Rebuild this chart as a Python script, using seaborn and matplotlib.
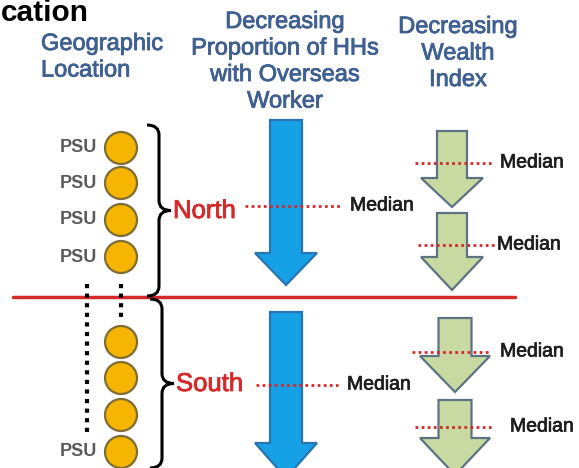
import matplotlib
matplotlib.use("Agg")
import matplotlib.pyplot as plt
import seaborn as sns
from matplotlib.patches import Polygon, Circle, PathPatch
from matplotlib.path import Path
import matplotlib.patheffects as pe

# ---- content of the diagram ----
TITLE_FRAGMENT = "cation"
HEADERS = [
    "Geographic\nLocation",
    "Decreasing\nProportion of HHs\nwith Overseas\nWorker",
    "Decreasing\nWealth\nIndex",
]
REGIONS = ["North", "South"]
PSU_NORTH = ["PSU", "PSU", "PSU", "PSU"]
PSU_SOUTH = ["", "", "", "PSU"]
MEDIAN_LABEL = "Median"

# ---- layout (pixel space, y downwards) ----
W, H = 579, 468
HEADER_X = [41, 285, 458]
HEADER_HA = ["left", "center", "center"]
HEADER_Y = [44, 22, 27]
HEADER_STEP = 26.5
PSU_Y = {"North": [148, 183, 220, 257], "South": [342, 378, 415, 452]}
REGION_Y = {"North": 211, "South": 384}
BRACE = {"North": (147, 125, 296), "South": (150, 299, 468)}

BLUE, BLUE_EDGE = "#16a0e6", "#2a74b0"
GREEN, GREEN_EDGE = "#c8d9a2", "#5d7383"
RED = "#d42a2a"
YELLOW, YELLOW_EDGE = "#f6b500", "#7d6d34"
HEADER_C = "#3f6090"

sns.set_theme(style="white")
plt.rcParams["font.family"] = ["Liberation Sans", "DejaVu Sans"]

fig = plt.figure(figsize=(W / 100, H / 100), dpi=100)
ax = fig.add_axes([0, 0, 1, 1])
ax.set_xlim(0, W)
ax.set_ylim(H, 0)
ax.axis("off")


def thick(color, w=0.6):
    # slightly heavier strokes, the source text is a blurred raster
    return [pe.withStroke(linewidth=w, foreground=color)]


def down_arrow(xc, top, base, tip, shaft_w, head_w, fc, ec):
    pts = [(xc - shaft_w / 2, top), (xc + shaft_w / 2, top),
           (xc + shaft_w / 2, base), (xc + head_w / 2, base),
           (xc, tip), (xc - head_w / 2, base), (xc - shaft_w / 2, base)]
    ax.add_patch(Polygon(pts, closed=True, fc=fc, ec=ec, lw=1.6, zorder=2))


def brace(x0, y0, y1, w=12, r=10):
    ym = (y0 + y1) / 2
    xb = x0 + w
    verts = [(x0, y0), (xb, y0), (xb, y0 + r), (xb, ym - r), (xb, ym), (xb + w, ym),
             (xb, ym), (xb, ym + r), (xb, y1 - r), (xb, y1), (x0, y1)]
    codes = [Path.MOVETO, Path.CURVE3, Path.CURVE3, Path.LINETO, Path.CURVE3, Path.CURVE3,
             Path.CURVE3, Path.CURVE3, Path.LINETO, Path.CURVE3, Path.CURVE3]
    ax.add_patch(PathPatch(Path(verts, codes), fc="none", ec="black", lw=2.2, zorder=3))


def median_line(x0, x1, y, label_x, size=14):
    ax.plot([x0, x1], [y, y], color=RED, lw=2, ls=(0, (1, 1.2)), zorder=4)
    ax.text(label_x, y, MEDIAN_LABEL, fontsize=size, color="#1e1e1e",
            ha="left", va="center", zorder=5, path_effects=thick("#1e1e1e", 0.5))


# title fragment and headers
ax.text(1, 21, TITLE_FRAGMENT, fontsize=21.5, fontweight="bold", color="black",
        ha="left", va="baseline")
for txt, x, ha, y in zip(HEADERS, HEADER_X, HEADER_HA, HEADER_Y):
    for i, line in enumerate(txt.split("\n")):
        ax.text(x, y + i * HEADER_STEP, line, fontsize=17, color=HEADER_C,
                ha=ha, va="center", path_effects=thick(HEADER_C))

# separating red line
ax.plot([13, 515], [297, 297], color=RED, lw=2.5, zorder=3)

# dotted columns showing more PSUs
ax.plot([87, 87], [284, 432], color="black", lw=3, ls=(0, (1, 1.3)), zorder=3)
ax.plot([121, 121], [284, 320], color="black", lw=3, ls=(0, (1, 1.3)), zorder=3)

# PSUs, braces and region labels
for region, labels in zip(REGIONS, [PSU_NORTH, PSU_SOUTH]):
    for lab, y in zip(labels, PSU_Y[region]):
        ax.add_patch(Circle((121, y), 16, fc=YELLOW, ec=YELLOW_EDGE, lw=1.6, zorder=4))
        if lab:
            ax.text(97, y, lab, fontsize=13, fontweight="bold", color="#595959",
                    ha="right", va="center")
    x0, y0, y1 = BRACE[region]
    brace(x0, y0, y1)
    ax.text(x0 + 26, REGION_Y[region], region, fontsize=18.5, color=RED,
            ha="left", va="center", path_effects=thick(RED))

# blue arrows (overseas worker proportion)
down_arrow(286, 120, 253, 285, 32, 62, BLUE, BLUE_EDGE)
down_arrow(286, 312, 443, 478, 32, 62, BLUE, BLUE_EDGE)
median_line(245, 342, 206, 350)
median_line(256, 338, 385, 347)

# green arrows (wealth index)
down_arrow(452, 131, 178, 207, 30, 62, GREEN, GREEN_EDGE)
down_arrow(452, 213, 257, 290, 30, 62, GREEN, GREEN_EDGE)
down_arrow(455, 318, 356, 392, 33, 70, GREEN, GREEN_EDGE)
down_arrow(455, 400, 438, 475, 33, 70, GREEN, GREEN_EDGE)
median_line(415, 494, 163, 500)
median_line(418, 495, 245, 497)
median_line(412, 490, 352, 500)
median_line(415, 492, 427, 510)

fig.savefig("out.png", dpi=100)
